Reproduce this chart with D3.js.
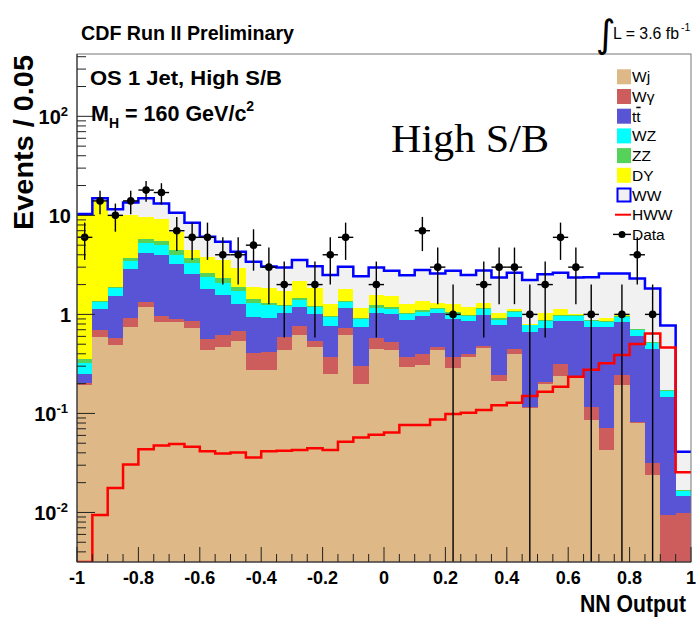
<!DOCTYPE html>
<html><head><meta charset="utf-8">
<script src="https://cdn.jsdelivr.net/npm/d3@7"></script>
<style>body{margin:0;background:#fff} svg{display:block}</style>
</head><body>
<svg id="c" width="696" height="621"></svg>
<script>
// ---- data ----
const binLow = [-1.00,-0.95,-0.90,-0.85,-0.80,-0.75,-0.70,-0.65,-0.60,-0.55,
                -0.50,-0.45,-0.40,-0.35,-0.30,-0.25,-0.20,-0.15,-0.10,-0.05,
                 0.00, 0.05, 0.10, 0.15, 0.20, 0.25, 0.30, 0.35, 0.40, 0.45,
                 0.50, 0.55, 0.60, 0.65, 0.70, 0.75, 0.80, 0.85, 0.90, 0.95];
const binWidth = 0.05;
const Wj  = [0.193,0.586,0.490,0.749,1.19,0.842,0.842,0.732,0.436,0.471,0.541,0.274,0.274,0.436,0.618,0.471,0.249,0.618,0.198,0.443,0.436,0.292,0.308,0.436,0.290,0.371,0.457,0.212,0.397,0.114,0.198,0.238,0.231,0.0861,0.0426,0.193,0.0804,0.0238,0,0];
const Wg  = [0.008,0.108,0.082,0.162,0.13,0.119,0.048,0.124,0.123,0.147,0.142,0.13,0.145,0.158,0.149,0.066,0.119,0.114,0.105,0.129,0.093,0.076,0.089,0.035,0.078,0.026,0.027,0.032,0.049,0.002,0.008,0.075,0.009,0.031,0.0285,0.051,0.002,0.0079,0.0094,0.0099];
const tt  = [0.048,0.43,0.96,1.94,2.87,3.01,2.31,1.73,1.23,0.95,0.59,0.54,0.49,0.45,0.43,0.47,0.40,0.42,0.446,0.47,0.49,0.51,0.564,0.56,0.522,0.469,0.511,0.536,0.487,0.542,0.526,0.549,0.616,0.632,0.678,0.598,0.522,0.414,0.136,0.0047];
const WZ  = [0.075,0.20,0.30,0.60,1.10,1.04,0.77,0.73,0.57,0.51,0.46,0.36,0.33,0.16,0.20,0.17,0.17,0.19,0.14,0.13,0.11,0.12,0.09,0.09,0.124,0.10,0.135,0.096,0.127,0.122,0.124,0.106,0.105,0.117,0.093,0.104,0.09,0.063,0.024,0.0018];
const ZZ  = [0.032,0.04,0.07,0.23,0.43,0.53,0.49,0.36,0.27,0.23,0.17,0.11,0.07,0.03,0.06,0.03,0.03,0.03,0.04,0.07,0.06,0.04,0.055,0.03,0.046,0.018,0.02,0.035,0.02,0.007,0.02,0.016,0.023,0.006,0.02,0.015,0.011,0.02,0.003,0.0004];
const DY  = [9.71,12.64,8.17,6.39,3.96,3.58,2.37,0.78,1.19,1.23,1.02,0.48,0.55,0.48,0.73,0.62,0.31,0.42,0.23,0.33,0.34,0.25,0.265,0.15,0.205,0.21,0.14,0.11,0.05,0.006,0.164,0.146,0.016,0.004,0.049,0.023,0.002,0.002,0,0];
const WW  = [0.23,0.85,1.43,3.43,5.17,4.08,3.77,3.96,2.26,1.87,1.37,1.50,1.18,1.26,1.36,1.24,1.22,1.24,1.27,1.41,1.23,1.20,1.43,1.29,1.50,1.30,1.49,1.34,1.50,1.43,1.51,1.50,1.36,1.50,1.68,1.61,1.59,1.30,0.60,0.0242];
const HWW = [0,0.0094,0.0177,0.0305,0.0436,0.0475,0.049,0.046,0.0416,0.0394,0.0404,0.0359,0.0416,0.0421,0.0426,0.0446,0.0426,0.0517,0.0572,0.0608,0.0643,0.0762,0.0762,0.0869,0.0984,0.1014,0.108,0.121,0.128,0.150,0.166,0.186,0.234,0.276,0.322,0.388,0.501,0.643,0.462,0.0254];
const dataCounts = [6,14,10,14,18,17,7,6,6,4,4,5,3,2,0,2,4,6,0,2,0,0,7,3,1,0,2,3,3,1,2,6,3,1,0,1,4,1,0,0];

const xTicks = [-1,-0.8,-0.6,-0.4,-0.2,0,0.2,0.4,0.6,0.8,1];
const xTickLabels = ["-1","-0.8","-0.6","-0.4","-0.2","0","0.2","0.4","0.6","0.8","1"];
const yTicks = [0.01,0.1,1,10,100];
const yTickBase = ["10","10","1","10","10"];
const yTickExp  = ["-2","-1","","","2"];

const legendKeys   = ["Wj","Wg","tt","WZ","ZZ","DY","WW","HWW","Data"];
const legendLabels = ["Wj","Wγ","tt","WZ","ZZ","DY","WW","HWW","Data"];

// ---- layout ----
const M = {l:77, r:691, t:54, b:562};
const x = d3.scaleLinear().domain([-1,1]).range([M.l,M.r]);
const y = d3.scaleLog().domain([0.00316,426]).range([M.b,M.t]).clamp(true);
const svg = d3.select("#c");
svg.append("rect").attr("width",696).attr("height",621).attr("fill","#fff");

const keys = ["Wj","Wg","tt","WZ","ZZ","DY","WW"];
const colors = {Wj:"#deb887",Wg:"#cd5c5c",tt:"#5953d6",WZ:"#00ffff",ZZ:"#55d25a",DY:"#ffff00",WW:"#f1f1f1"};
const series = {Wj,Wg,tt,WZ,ZZ,DY,WW};
const rows = binLow.map((lo,i)=>{
  const r = {lo, hi: lo+binWidth, hww: HWW[i], n: dataCounts[i]};
  keys.forEach(k=> r[k] = series[k][i]);
  return r;
});
const stacked = d3.stack().keys(keys)(rows);

svg.append("defs").append("clipPath").attr("id","clip")
  .append("rect").attr("x",M.l).attr("y",M.t).attr("width",M.r-M.l).attr("height",M.b-M.t);
const plot = svg.append("g").attr("clip-path","url(#clip)");

stacked.forEach(layer=>{
  plot.append("g").attr("fill",colors[layer.key]).attr("shape-rendering","crispEdges")
    .selectAll("rect").data(layer).join("rect")
    .attr("x",d=>x(d.data.lo))
    .attr("width",d=>x(d.data.hi)-x(d.data.lo))
    .attr("y",d=>y(d[1]))
    .attr("height",d=>Math.max(0,y(d[0])-y(d[1])));
});

function stepPoints(vals){
  const pts=[];
  rows.forEach((r,i)=>{ pts.push([x(r.lo),y(vals[i])]); pts.push([x(r.hi),y(vals[i])]); });
  return pts;
}
const totals = stacked[stacked.length-1].map(d=>d[1]);
const line = d3.line();
plot.append("path").attr("d",line(stepPoints(totals)))
  .attr("fill","none").attr("stroke","#0000ff").attr("stroke-width",2.5).attr("stroke-linejoin","miter");
plot.append("path").attr("d",line(stepPoints(HWW)))
  .attr("fill","none").attr("stroke","#ff0000").attr("stroke-width",2.5).attr("stroke-linejoin","miter");

// data points
const pts = rows.filter(r=>r.n>0);
const dg = plot.append("g");
dg.selectAll("line.v").data(pts).join("line").attr("class","v")
  .attr("x1",d=>x(d.lo+binWidth/2)).attr("x2",d=>x(d.lo+binWidth/2))
  .attr("y1",d=>y(d.n+Math.sqrt(d.n))).attr("y2",d=>y(d.n-Math.sqrt(d.n)))
  .attr("stroke","#000").attr("stroke-width",1.4);
dg.selectAll("line.h").data(pts).join("line").attr("class","h")
  .attr("x1",d=>x(d.lo)).attr("x2",d=>x(d.lo+binWidth))
  .attr("y1",d=>y(d.n)).attr("y2",d=>y(d.n))
  .attr("stroke","#000").attr("stroke-width",1.4);
dg.selectAll("circle").data(pts).join("circle")
  .attr("cx",d=>x(d.lo+binWidth/2)).attr("cy",d=>y(d.n)).attr("r",3.8).attr("fill","#000");

// frame & axes
svg.append("rect").attr("x",M.l).attr("y",M.t).attr("width",M.r-M.l).attr("height",M.b-M.t)
  .attr("fill","none").attr("stroke","#777").attr("stroke-width",1);
const ax = svg.append("g").attr("stroke","#222").attr("stroke-width",1);
ax.append("line").attr("x1",M.l).attr("x2",M.l).attr("y1",M.t).attr("y2",M.b);
ax.append("line").attr("x1",M.l).attr("x2",M.r).attr("y1",M.b).attr("y2",M.b);
y.ticks().forEach(v=>{
  const major = yTicks.some(t=>Math.abs(t-v)/t<1e-6);
  ax.append("line").attr("x1",M.l).attr("x2",M.l+(major?18:9)).attr("y1",y(v)).attr("y2",y(v));
});
const xMinor = binLow.concat([1]);
xMinor.forEach(v=>{
  const major = xTicks.some(t=>Math.abs(t-v)<1e-6);
  ax.append("line").attr("x1",x(v)).attr("x2",x(v)).attr("y1",M.b).attr("y2",M.b-(major?15:8));
});

const sans = "'Liberation Sans', Arial, Helvetica, sans-serif";
svg.append("g").selectAll("text").data(xTicks).join("text")
  .attr("x",d=>x(d)).attr("y",584).attr("text-anchor","middle")
  .attr("font-family",sans).attr("font-weight","bold").attr("font-size",18)
  .text((d,i)=>xTickLabels[i]);
yTicks.forEach((v,i)=>{
  const t = svg.append("text").attr("x", yTickExp[i] ? 68 : 71).attr("y", y(v)+7.5)
    .attr("text-anchor","end").attr("font-family",sans).attr("font-weight","bold").attr("font-size",20);
  t.append("tspan").text(yTickBase[i]);
  if (yTickExp[i]) t.append("tspan").attr("dy",-8).attr("font-size",13).text(yTickExp[i]);
});

svg.append("text").attr("transform","translate(33,55) rotate(-90)").attr("text-anchor","end")
  .attr("font-family",sans).attr("font-weight","bold").attr("font-size",27)
  .attr("textLength",175).attr("lengthAdjust","spacingAndGlyphs").text("Events / 0.05");
svg.append("text").attr("x",686).attr("y",612).attr("text-anchor","end")
  .attr("font-family",sans).attr("font-weight","bold").attr("font-size",23)
  .attr("textLength",106).attr("lengthAdjust","spacingAndGlyphs").text("NN Output");

svg.append("text").attr("x",81).attr("y",40).attr("font-family",sans).attr("font-weight","bold")
  .attr("font-size",20).attr("textLength",213).attr("lengthAdjust","spacingAndGlyphs").text("CDF Run II Preliminary");
svg.append("text").attr("x",90).attr("y",85).attr("font-family",sans).attr("font-weight","bold")
  .attr("font-size",21).attr("textLength",192).attr("lengthAdjust","spacingAndGlyphs").text("OS 1 Jet, High S/B");
const mh = svg.append("text").attr("x",91).attr("y",120.5).attr("font-family",sans).attr("font-weight","bold").attr("font-size",21.5);
mh.append("tspan").text("M");
mh.append("tspan").attr("dy",7).attr("font-size",14).text("H");
mh.append("tspan").attr("dy",-7).text(" = 160 GeV/c");
mh.append("tspan").attr("dy",-10).attr("font-size",14).text("2");
svg.append("text").attr("x",391).attr("y",151.5).attr("font-family","'Liberation Serif','Times New Roman',serif")
  .attr("font-size",41).attr("textLength",158).attr("lengthAdjust","spacingAndGlyphs").text("High S/B");
// luminosity
svg.append("text").attr("x",596).attr("y",47).attr("font-family","'DejaVu Sans',sans-serif")
  .attr("font-size",38).attr("font-weight","normal").text("∫");
svg.append("text").attr("x",613).attr("y",39).attr("font-family",sans).attr("font-size",16.5)
  .attr("textLength",66).attr("lengthAdjust","spacingAndGlyphs").text("L = 3.6 fb");
svg.append("text").attr("x",681).attr("y",31).attr("font-family",sans).attr("font-size",10.5).text("-1");

// legend
const lg = svg.append("g");
const rowY = i => 76.8 + 19.7*i;
legendKeys.forEach((k,i)=>{
  const cy = rowY(i);
  if (k==="HWW") {
    lg.append("line").attr("x1",615).attr("x2",631).attr("y1",cy).attr("y2",cy).attr("stroke","#ff0000").attr("stroke-width",2);
  } else if (k==="Data") {
    lg.append("line").attr("x1",613).attr("x2",631).attr("y1",cy).attr("y2",cy).attr("stroke","#000").attr("stroke-width",1.4);
    lg.append("circle").attr("cx",622).attr("cy",cy).attr("r",3.5).attr("fill","#000");
  } else if (k==="WW") {
    lg.append("rect").attr("x",617.5).attr("y",cy-6.5).attr("width",13).attr("height",13)
      .attr("fill",colors.WW).attr("stroke","#0000ff").attr("stroke-width",2);
  } else {
    lg.append("rect").attr("x",617).attr("y",cy-7.5).attr("width",14).attr("height",15).attr("fill",colors[k]);
  }
  const t = lg.append("text").attr("x",632).attr("y",cy+5.5).attr("font-family",sans).attr("font-size",15.5);
  if (k==="tt") {
    t.append("tspan").text("t");
    t.append("tspan").style("text-decoration","overline").text("t");
  } else t.text(legendLabels[i]);
});
</script>
</body></html>
